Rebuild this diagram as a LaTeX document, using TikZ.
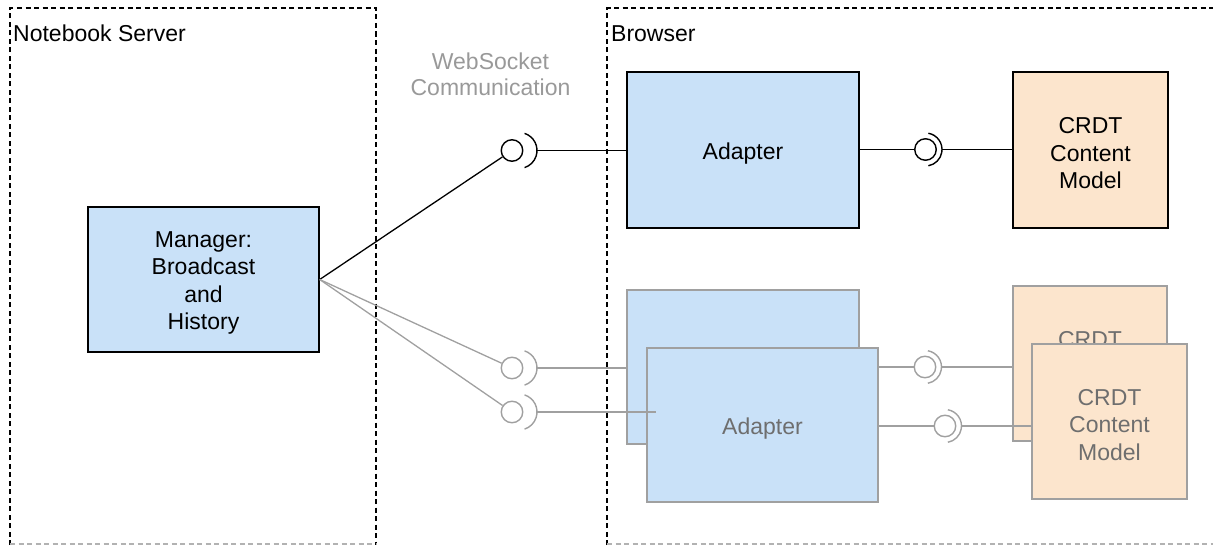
\documentclass[tikz,border=0pt]{standalone}
\usepackage{fontspec}
\setmainfont{Liberation Sans}
\definecolor{paleblue}{HTML}{C9E1F8}
\definecolor{palepeach}{HTML}{FCE5CD}
\definecolor{lineGray}{HTML}{A0A0A0}
\definecolor{textGray}{HTML}{6E6E6E}
\definecolor{labelGray}{HTML}{999999}
\tikzset{
  frame/.style={draw=black, line width=1.3pt, dash pattern=on 5pt off 3.5pt},
  framefoot/.style={draw=black!30, line width=1.1pt, dash pattern=on 5pt off 3.5pt},
  comp/.style={draw=black, line width=1.4pt, inner sep=0pt},
  compgray/.style={comp, draw=lineGray},
  boxtext/.style={align=center, inner sep=0pt, yshift=-3.5pt,
    font=\fontsize{23}{27.5}\selectfont},
  boxtextgray/.style={boxtext, text=textGray},
  lbl/.style={font=\fontsize{23}{26}\selectfont, inner sep=0pt},
  conn/.style={draw=black, line width=1.3pt},
  conngray/.style={draw=lineGray, line width=1.3pt},
  sock/.style={circle, draw, line width=1.4pt, minimum size=21.5pt, inner sep=0pt},
  pics/cupwide/.style={code={
    \draw[#1, line width=1.4pt] ([shift={(-72:18)}]7,0) arc[start angle=-72, end angle=72, radius=18];}},
  pics/cupwide/.default=black,
  pics/cupnear/.style={code={
    \draw[#1, line width=1.4pt] ([shift={(-80:16.5)}]0,0) arc[start angle=-80, end angle=80, radius=16.5];}},
  pics/cupnear/.default=black,
}
\begin{document}
\begin{tikzpicture}[x=1pt, y=-1pt]
\useasboundingbox (0,0) rectangle (1213,546);

% containers
\draw[frame] (10,545) -- (10,8) -- (376,8) -- (376,545);
\draw[framefoot] (10,544) -- (376,544);
\draw[frame] (607,545) -- (607,8) -- (1213,8);
\draw[framefoot] (607,544) -- (1213,544);
\node[lbl, anchor=base west] (nsLabel) at (13,41.5) {Notebook Server};
\node[lbl, anchor=base west] (brLabel) at (611,41.5) {Browser};
\node[lbl, text=labelGray, align=center] (wsLabel) at (490.5,74) {WebSocket\\Communication};

% server side
\node[comp, fill=paleblue, minimum width=231pt, minimum height=145pt,
  label={[boxtext]center:Manager:\\Broadcast\\and\\History}] (mgr) at (203.5,279.5) {};

% active client
\node[comp, fill=paleblue, minimum width=232pt, minimum height=156pt,
  label={[boxtext]center:Adapter}] (ad1) at (743,150) {};
\node[comp, fill=palepeach, minimum width=155pt, minimum height=156pt,
  label={[boxtext]center:CRDT\\Content\\Model}] (cr1) at (1090.5,150) {};

% further clients, faded
\node[compgray, fill=paleblue, minimum width=232pt, minimum height=154pt] (ad2b) at (743,367) {};
\node[compgray, fill=palepeach, minimum width=154pt, minimum height=155pt,
  label={[boxtextgray]center:CRDT\\Content\\Model}] (cr2b) at (1090,363.5) {};
\node[compgray, fill=paleblue, minimum width=231pt, minimum height=154pt,
  label={[boxtextgray]center:Adapter}] (ad2f) at (762.5,425) {};
\node[compgray, fill=palepeach, minimum width=155pt, minimum height=155pt,
  label={[boxtextgray]center:CRDT\\Content\\Model}] (cr2f) at (1109.5,421.5) {};

% sockets
\node[sock, draw=black] (s1) at (512,150.5) {};
\pic at (s1.center) {cupwide};
\coordinate (t1) at (537,150.5);
\node[sock, draw=black] (s2) at (925.5,149.5) {};
\pic at (s2.center) {cupnear};
\coordinate (t2) at (942,149.5);

\node[sock, draw=lineGray] (g1) at (512,368) {};
\pic at (g1.center) {cupwide=lineGray};
\coordinate (u1) at (537,368);
\node[sock, draw=lineGray] (g2) at (512,412) {};
\pic at (g2.center) {cupwide=lineGray};
\coordinate (u2) at (537,412);
\coordinate (u2end) at (656,412);
\node[sock, draw=lineGray] (g3) at (925,367) {};
\pic at (g3.center) {cupnear=lineGray};
\coordinate (u3) at (941.5,367);
\node[sock, draw=lineGray] (g4) at (945,426) {};
\pic at (g4.center) {cupnear=lineGray};
\coordinate (u4) at (961.5,426);

% connectors
\draw[conn] (mgr.east) -- (s1);
\draw[conn] (t1) -- (ad1.west |- t1);
\draw[conn] (ad1.east |- s2) -- (s2);
\draw[conn] (t2) -- (cr1.west |- t2);

\draw[conngray] (mgr.east) -- (g1);
\draw[conngray] (mgr.east) -- (g2);
\draw[conngray] (u1) -- (ad2b.west |- u1);
\draw[conngray] (u2) -- (u2end);
\draw[conngray] (ad2f.east |- g3) -- (g3);
\draw[conngray] (u3) -- (cr2b.west |- u3);
\draw[conngray] (ad2f.east |- g4) -- (g4);
\draw[conngray] (u4) -- (cr2f.west |- u4);
\end{tikzpicture}
\end{document}
